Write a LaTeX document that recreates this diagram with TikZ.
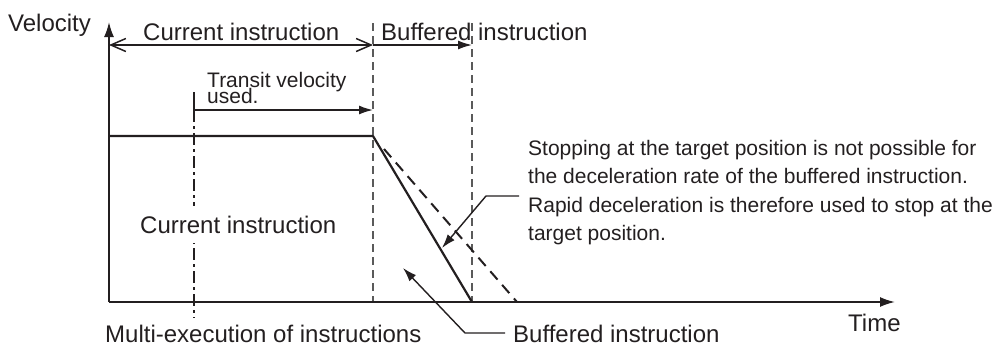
\documentclass[tikz,border=0pt]{standalone}
\usepackage{fontspec}
\setmainfont{Liberation Sans}
\usetikzlibrary{arrows.meta}
\definecolor{ink}{HTML}{231F20}
\definecolor{guide}{HTML}{5A5A5A}
\begin{document}
\begin{tikzpicture}[x=1pt,y=-1pt,
  lbl/.style={font=\fontsize{24}{28}\selectfont, text=ink, inner sep=0pt, anchor=base west},
  small/.style={font=\fontsize{21}{24}\selectfont, text=ink, inner sep=0pt, anchor=base west},
  axisline/.style={draw=ink, line width=1.8pt, -{Latex[length=15pt,width=10pt]}},
  guideline/.style={draw=guide, line width=1.2pt, dash pattern=on 8pt off 5pt},
  profile/.style={draw=ink, line width=2.2pt},
  leader/.style={draw=ink, line width=1.4pt, -{Latex[length=14pt,width=9pt]}},
  span/.style={draw=ink, line width=1.5pt}]
\useasboundingbox (0,0) rectangle (1005,349);

% key coordinates
\coordinate (O) at (109,302);
\coordinate (Ytop) at (109,22);
\coordinate (Xend) at (895,302);
\coordinate (H0) at (109,136);
\coordinate (V1) at (373,136);
\coordinate (S1) at (472,302);
\coordinate (d0) at (384,149);
\coordinate (d1) at (517,302);
\coordinate (g1t) at (373,23);
\coordinate (g1b) at (373,302);
\coordinate (g2t) at (472,23);
\coordinate (g2b) at (472,302);
\coordinate (c0) at (109,45);
\coordinate (c1) at (373,45);
\coordinate (c2) at (472,45);
\coordinate (tA) at (194,92);
\coordinate (tB) at (373,110);
\coordinate (tC) at (194,110);
\coordinate (tD) at (194,318);

% guides
\draw[guideline] (g1t) -- (g1b);
\draw[guideline] (g2t) -- (g2b);
\draw[draw=ink, line width=1.3pt, dash pattern=on 12pt off 4pt on 3pt off 4pt] (tC) -- (tD);

% labels with white background
\node[lbl, fill=white, inner xsep=4pt, inner ysep=10pt] (cur) at (136,233) {Current instruction};

% axes
\draw[axisline] (O) -- (Ytop);
\draw[axisline] (O) -- (Xend);

% profile
\draw[profile, line join=round] (H0) -- (V1) -- (S1);
\draw[draw=ink, line width=2pt, dash pattern=on 11pt off 7pt] (d0) -- (d1);

% spans
\draw[span, {Straight Barb[length=15pt,width=13pt]}-{Straight Barb[length=15pt,width=13pt]}] (c0) -- (c1);
\draw[span, -{Latex[length=14pt,width=9pt]}] (c1) -- (c2);
\draw[span, -{Latex[length=14pt,width=9pt]}] (tA) |- (tB);

% texts
\node[lbl] (vel) at (8,31) {Velocity};
\node[lbl] (curtop) at (143,40) {Current instruction};
\node[lbl] (buftop) at (381,40) {Buffered instruction};
\node[small, align=left, font={\fontsize{21}{16}\selectfont\lineskiplimit=-20pt}] (tr) at (207,103) {Transit velocity\\used.};
\node[lbl] (multi) at (105,342) {Multi-execution of instructions};
\node[lbl] (bufbot) at (513,342) {Buffered instruction};
\node[lbl] (time) at (848,331) {Time};
\node[small] (r1) at (528,155) {Stopping at the target position is not possible for};
\node[small] (r2) at (528,183.5) {the deceleration rate of the buffered instruction.};
\node[small] (r3) at (528,212) {Rapid deceleration is therefore used to stop at the};
\node[small] (r4) at (528,240.5) {target position.};

% leaders
\coordinate (la0) at (519,196);
\coordinate (la1) at (486,196);
\coordinate (la2) at (442,248);
\coordinate (lb0) at (505,333);
\coordinate (lb1) at (465,333);
\coordinate (lb2) at (403,268);
\draw[leader] (la0) -- (la1) -- (la2);
\draw[leader] (lb0) -- (lb1) -- (lb2);
\end{tikzpicture}
\end{document}
